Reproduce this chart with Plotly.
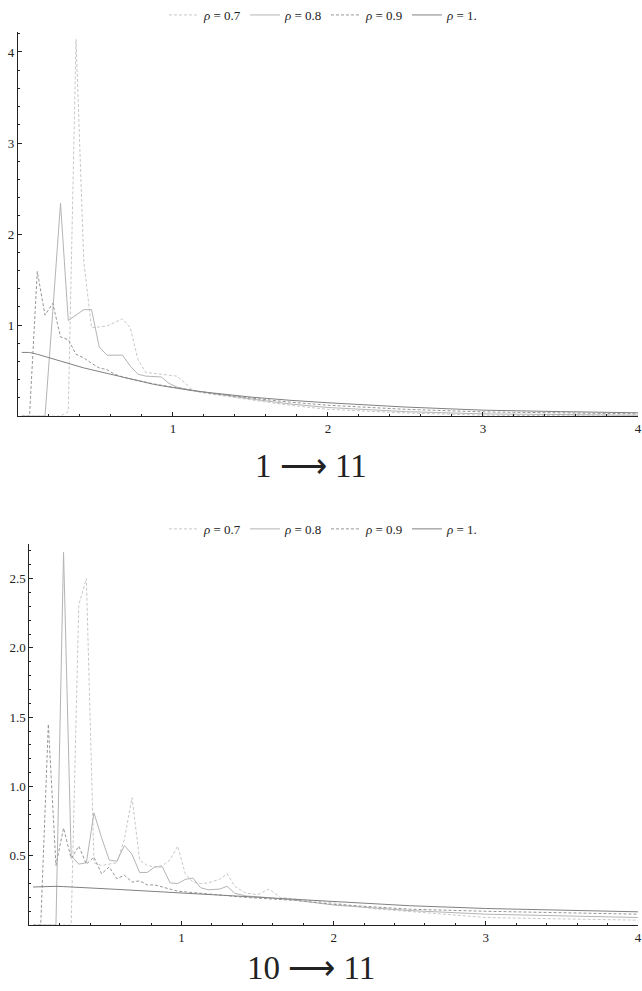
import plotly.graph_objects as go

# ---------------- data ----------------
RHO_LABELS = ["<i>ρ</i> = 0.7", "<i>ρ</i> = 0.8", "<i>ρ</i> = 0.9", "<i>ρ</i> = 1."]

X_TOP = [0.025, 0.075, 0.125, 0.175, 0.225, 0.275, 0.325, 0.375, 0.425, 0.475,
         0.525, 0.575, 0.625, 0.675, 0.725, 0.775, 0.825, 0.875, 0.925, 0.975,
         1.025, 1.075, 1.125, 1.175,
         1.25, 1.5, 1.75, 2.0, 2.5, 3.0, 3.5, 4.0]

TOP_07 = [0, 0, 0, 0, 0, 0, 0.05, 4.14, 1.7, 0.97,
          0.98, 0.99, 1.03, 1.07, 0.97, 0.62, 0.48, 0.47, 0.46, 0.45,
          0.44, 0.37, 0.29, 0.26,
          0.24, 0.18, 0.12, 0.075, 0.035, 0.011, 0.005, 0.002]
TOP_08 = [0, 0, 0, 0, 1.15, 2.34, 1.05, 1.11, 1.17, 1.17,
          0.76, 0.67, 0.67, 0.67, 0.55, 0.46, 0.44, 0.435, 0.43, 0.36,
          0.32, 0.30, 0.285, 0.27,
          0.25, 0.19, 0.135, 0.095, 0.05, 0.025, 0.015, 0.011]
TOP_09 = [0, 0, 1.59, 1.11, 1.24, 0.87, 0.84, 0.68, 0.64, 0.58,
          0.53, 0.51, 0.46, 0.43, 0.41, 0.39, 0.37, 0.355, 0.34, 0.325,
          0.31, 0.295, 0.28, 0.265,
          0.25, 0.2, 0.155, 0.12, 0.075, 0.047, 0.035, 0.026]
TOP_10 = [0.70, 0.70, 0.68, 0.655, 0.63, 0.60, 0.575, 0.555, 0.53, 0.51,
          0.49, 0.47, 0.45, 0.425, 0.405, 0.385, 0.37, 0.35, 0.335, 0.32,
          0.305, 0.29, 0.28, 0.27,
          0.255, 0.21, 0.175, 0.147, 0.10, 0.066, 0.05, 0.037]

X_BOT = [0.025, 0.075, 0.125, 0.175, 0.225, 0.275, 0.325, 0.375, 0.425, 0.475,
         0.525, 0.575, 0.625, 0.675, 0.725, 0.775, 0.825, 0.875, 0.925, 0.975,
         1.025, 1.075, 1.125, 1.175,
         1.25, 1.3, 1.35, 1.425, 1.5, 1.575, 1.65, 1.75, 2.0, 2.25, 2.5, 3.0, 3.5, 4.0]

BOT_07 = [0, 0, 0, 0, 0, 0, 2.31, 2.5, 0.45, 0.43,
          0.44, 0.45, 0.62, 0.92, 0.47, 0.43, 0.42, 0.43, 0.47, 0.57,
          0.37, 0.31, 0.30, 0.305,
          0.33, 0.37, 0.28, 0.23, 0.22, 0.26, 0.20, 0.19, 0.16, 0.12, 0.10, 0.055, 0.045, 0.036]
BOT_08 = [0, 0, 0, 0, 2.69, 0.50, 0.44, 0.45, 0.81, 0.63,
          0.47, 0.46, 0.575, 0.51, 0.38, 0.38, 0.42, 0.42, 0.305, 0.30,
          0.33, 0.34, 0.27, 0.255,
          0.26, 0.28, 0.23, 0.21, 0.205, 0.2, 0.19, 0.18, 0.145, 0.125, 0.105, 0.079, 0.065, 0.055]
BOT_09 = [0, 0, 1.45, 0.43, 0.70, 0.48, 0.57, 0.44, 0.49, 0.37,
          0.42, 0.335, 0.36, 0.31, 0.32, 0.29, 0.29, 0.275, 0.26, 0.245,
          0.24, 0.235, 0.225, 0.22,
          0.215, 0.21, 0.205, 0.2, 0.195, 0.19, 0.185, 0.178, 0.15, 0.13, 0.115, 0.10, 0.088, 0.079]
BOT_10 = [0.275, 0.278, 0.28, 0.28, 0.278, 0.276, 0.273, 0.27, 0.267, 0.264,
          0.261, 0.258, 0.255, 0.252, 0.249, 0.246, 0.243, 0.240, 0.237, 0.233,
          0.229, 0.226, 0.222, 0.219,
          0.215, 0.21, 0.207, 0.203, 0.2, 0.196, 0.192, 0.186, 0.168, 0.153, 0.14, 0.12, 0.107, 0.096]

X_TICKS = [1, 2, 3, 4]
TOP_Y_TICKS = [1, 2, 3, 4]
BOT_Y_TICKS = [0.5, 1.0, 1.5, 2.0, 2.5]
BOT_Y_TICKTEXT = ["0.5", "1.0", "1.5", "2.0", "2.5"]
CAPTIONS = ["1 \u27f6 11", "10 \u27f6 11"]

# ---------------- styles ----------------
STYLES = [
    dict(color="#c8c8c8", width=1, dash="3px,2px"),
    dict(color="#b4b4b4", width=1),
    dict(color="#969696", width=1, dash="3px,2px"),
    dict(color="#808080", width=1),
]
FONT = "Liberation Serif, Times New Roman, serif"
W, H = 642, 991

fig = go.Figure()
top_series = [TOP_07, TOP_08, TOP_09, TOP_10]
bot_series = [BOT_07, BOT_08, BOT_09, BOT_10]
for lab, ys, st in zip(RHO_LABELS, top_series, STYLES):
    fig.add_trace(go.Scatter(x=X_TOP, y=ys, mode="lines", name=lab, line=st,
                             xaxis="x", yaxis="y", legend="legend"))
for lab, ys, st in zip(RHO_LABELS, bot_series, STYLES):
    fig.add_trace(go.Scatter(x=X_BOT, y=ys, mode="lines", name=lab, line=st,
                             xaxis="x2", yaxis="y2", legend="legend2"))

axis_common = dict(showgrid=False, zeroline=False, showline=True, linecolor="#222",
                   linewidth=1, ticks="inside", ticklen=4, tickcolor="#222",
                   ticklabeloverflow="allow",
                   tickfont=dict(family=FONT, size=13, color="#222"))
minor = dict(ticks="inside", ticklen=2, tickcolor="#222", tickmode="linear",
             tick0=0, dtick=0.2)
minor_b = dict(ticks="inside", ticklen=2, tickcolor="#222", tickmode="linear",
               tick0=0, dtick=0.1)

legend_common = dict(orientation="h", xanchor="center", yanchor="middle",
                     font=dict(family=FONT, size=13, color="#222"),
                     bgcolor="rgba(0,0,0,0)", itemclick=False, entrywidth=36)

fig.update_layout(
    width=W, height=H,
    margin=dict(l=0, r=0, t=0, b=0),
    paper_bgcolor="white", plot_bgcolor="white",
    showlegend=True,
    font=dict(family=FONT),
    xaxis=dict(domain=[18 / W, 1], range=[0, 4.0], anchor="y",
               tickvals=X_TICKS, minor=minor, **axis_common),
    yaxis=dict(domain=[(H - 415) / H, (H - 30) / H], range=[0, 4.22], anchor="x",
               tickvals=TOP_Y_TICKS, minor=minor, **axis_common),
    xaxis2=dict(domain=[29.5 / W, 1], range=[0, 4.0], anchor="y2",
                tickvals=X_TICKS, minor=minor, **axis_common),
    yaxis2=dict(domain=[(H - 925) / H, (H - 543) / H], range=[0, 2.75], anchor="x2",
                tickvals=BOT_Y_TICKS, ticktext=BOT_Y_TICKTEXT, minor=minor_b, **axis_common),
    legend=dict(x=328 / W, y=(H - 13) / H, **legend_common),
    legend2=dict(x=328 / W, y=(H - 528) / H, **legend_common),
    annotations=[
        dict(text=CAPTIONS[0], x=313 / W, y=(H - 465) / H, xref="paper", yref="paper",
             showarrow=False, xanchor="center", yanchor="middle",
             font=dict(family=FONT, size=33, color="#222")),
        dict(text=CAPTIONS[1], x=313 / W, y=(H - 968) / H, xref="paper", yref="paper",
             showarrow=False, xanchor="center", yanchor="middle",
             font=dict(family=FONT, size=33, color="#222")),
    ],
)

fig.write_html(
    "out.html",
    config={"displayModeBar": False},
    post_script="document.body.style.margin='0';document.body.style.overflow='hidden';",
)
